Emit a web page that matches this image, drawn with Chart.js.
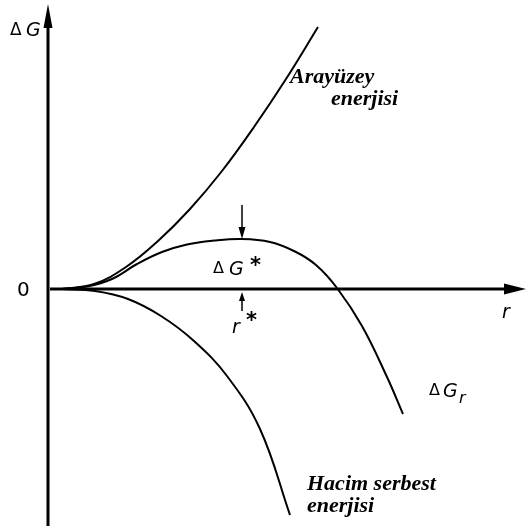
<!DOCTYPE html>
<html>
<head>
<meta charset="utf-8">
<script src="https://cdn.jsdelivr.net/npm/chart.js@4.4.0/dist/chart.umd.min.js"></script>
<style>
  html, body { margin: 0; padding: 0; background: #fff; }
  #wrap { width: 527px; height: 526px; }
</style>
</head>
<body>
<div id="wrap"><canvas id="chart" width="527" height="526"></canvas></div>
<script>
// Değerler (r ve ΔG, keyfi birim)
const rArayuzey = [1.4, 4.6, 7.8, 11.0, 14.2, 17.4, 20.6, 23.8, 27.0];
const gArayuzey = [0, 0.5, 2.2, 4.8, 8.0, 11.8, 16.2, 21.0, 26.2];

const rHacim = [1.4, 4.7, 8.0, 11.3, 14.6, 17.9, 21.2, 24.2];
const gHacim = [0, -0.2, -1.0, -2.7, -5.2, -8.7, -14.0, -22.6];

const rToplam = [1.4, 3.9, 6.4, 8.9, 11.4, 13.9, 16.6, 19.4, 22.2, 24.7, 26.8, 28.9, 31.4, 33.9, 35.5];
const gToplam = [0, 0.25, 1.0, 2.5, 3.7, 4.45, 4.84, 5.0, 4.7, 3.75, 2.4, 0.1, -3.7, -8.8, -12.5];

const noktalar = (xs, ys) => xs.map((x, i) => ({ x: x, y: ys[i] }));

function ok(ctx, x1, y1, x2, y2, boy, yari) {
    // (x1,y1)'den (x2,y2)'ye dolu uçlu ok
    const a = Math.atan2(y2 - y1, x2 - x1);
    const bx = x2 - Math.cos(a) * boy, by = y2 - Math.sin(a) * boy;
    ctx.beginPath();
    ctx.moveTo(x1, y1);
    ctx.lineTo(bx, by);
    ctx.stroke();
    ctx.beginPath();
    ctx.moveTo(x2, y2);
    ctx.lineTo(bx + Math.sin(a) * yari, by - Math.cos(a) * yari);
    ctx.lineTo(bx - Math.sin(a) * yari, by + Math.cos(a) * yari);
    ctx.closePath();
    ctx.fill();
}

function yaz(ctx, metin, x, y, font) {
    ctx.font = font;
    ctx.fillText(metin, x, y);
}

const eksenler = {
    id: 'eksenler',
    afterDatasetsDraw(chart) {
        const ctx = chart.ctx;
        const xs = chart.scales.x, ys = chart.scales.y;
        const x0 = xs.getPixelForValue(0), y0 = ys.getPixelForValue(0);
        ctx.save();
        ctx.strokeStyle = '#000';
        ctx.fillStyle = '#000';
        ctx.lineWidth = 3;
        ok(ctx, x0, chart.height, x0, 4, 24, 4.5);
        ok(ctx, x0 + 2, y0, chart.width - 1, y0, 22, 5.5);

        // ΔG* ve r* okları, eğrinin tepe noktasında
        let iMax = 0;
        gToplam.forEach((g, i) => { if (g > gToplam[iMax]) iMax = i; });
        const xm = xs.getPixelForValue(rToplam[iMax]);
        const ym = ys.getPixelForValue(gToplam[iMax]);
        ctx.lineWidth = 1.5;
        ok(ctx, xm, ym - 34, xm, ym, 12, 3.5);
        ok(ctx, xm, y0 + 22, xm, y0 + 3, 9, 3);

        ctx.textBaseline = 'alphabetic';
        const sans = '"DejaVu Sans"';
        // ΔG ekseni
        yaz(ctx, 'Δ', 10, 35, '17px ' + sans);
        yaz(ctx, 'G', 26, 36, 'oblique 19px ' + sans);
        yaz(ctx, '0', 17, 296, '20px ' + sans);
        yaz(ctx, 'r', 502, 318, 'oblique 19px ' + sans);
        // ΔG*
        yaz(ctx, 'Δ', 213, 273, '16px ' + sans);
        yaz(ctx, 'G', 229, 275, 'oblique 19px ' + sans);
        yaz(ctx, '*', 250, 272, 'bold 21px ' + sans);
        // r*
        yaz(ctx, 'r', 232, 333, 'oblique 19px ' + sans);
        yaz(ctx, '*', 246, 327, 'bold 21px ' + sans);
        // ΔGr
        yaz(ctx, 'Δ', 429, 395, '16px ' + sans);
        yaz(ctx, 'G', 443, 397, 'oblique 19px ' + sans);
        yaz(ctx, 'r', 459, 403, 'oblique 16px ' + sans);

        const serif = 'italic bold 22px "Liberation Serif"';
        yaz(ctx, 'Arayüzey', 290, 83, serif);
        yaz(ctx, 'enerjisi', 331, 105, serif);
        yaz(ctx, 'Hacim serbest', 307, 490, serif);
        yaz(ctx, 'enerjisi', 307, 512, serif);
        ctx.restore();
    }
};

const cizgi = {
    showLine: true,
    borderColor: '#000',
    borderWidth: 2,
    pointRadius: 0,
    tension: 0.4,
    fill: false
};

new Chart(document.getElementById('chart'), {
    type: 'scatter',
    data: {
        datasets: [
            Object.assign({ label: 'Arayüzey enerjisi', data: noktalar(rArayuzey, gArayuzey) }, cizgi),
            Object.assign({ label: 'Hacim serbest enerjisi', data: noktalar(rHacim, gHacim) }, cizgi),
            Object.assign({ label: 'ΔGr', data: noktalar(rToplam, gToplam) }, cizgi)
        ]
    },
    options: {
        responsive: false,
        animation: false,
        layout: { padding: 0 },
        plugins: { legend: { display: false }, tooltip: { enabled: false } },
        scales: {
            x: { type: 'linear', display: false, min: -4.8, max: 47.9 },
            y: { type: 'linear', display: false, min: -23.7, max: 28.9 }
        }
    },
    plugins: [eksenler]
});
</script>
</body>
</html>
